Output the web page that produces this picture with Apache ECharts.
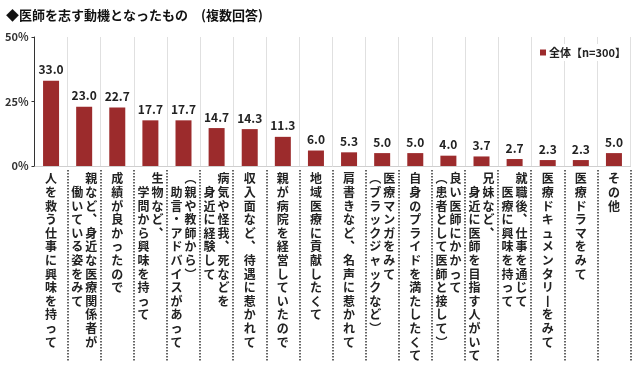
<!DOCTYPE html>
<html>
<head>
<meta charset="utf-8">
<script src="https://cdn.jsdelivr.net/npm/echarts@6/dist/echarts.min.js"></script>
<style>
html,body{margin:0;padding:0;background:#fff;}
#chart{width:637px;height:367px;}
</style>
</head>
<body>
<div id="chart"></div>
<script>
const titleText = '◆医師を志す動機となったもの　(複数回答)';
const seriesName = '全体【n=300】';
const categories = [
  '人を救う仕事に興味を持って',
  '親など、身近な医療関係者が\n　働いている姿をみて',
  '成績が良かったので',
  '生物など、\n　学問から興味を持って',
  '（親や教師から）\n　助言・アドバイスがあって',
  '病気や怪我、死などを\n　身近に経験して',
  '収入面など、待遇に惹かれて',
  '親が病院を経営していたので',
  '地域医療に貢献したくて',
  '肩書きなど、名声に惹かれて',
  '医療マンガをみて\n（ブラックジャックなど）',
  '自身のプライドを満たしたくて',
  '良い医師にかかって\n（患者として医師と接して）',
  '兄妹など、\n　身近に医師を目指す人がいて',
  '就職後、仕事を通じて\n　医療に興味を持って',
  '医療ドキュメンタリーをみて',
  '医療ドラマをみて',
  'その他'
];
const values = [33.0, 23.0, 22.7, 17.7, 17.7, 14.7, 14.3, 11.3, 6.0, 5.3, 5.0, 5.0, 4.0, 3.7, 2.7, 2.3, 2.3, 5.0];
const yTicks = [0, 25, 50];

const verticalMap = {'、':'︑','（':'︵','）':'︶','ー':'丨'};
function verticalLabel(value) {
  const cols = value.split('\n').map(c => Array.from(c).map(ch => verticalMap[ch] || ch));
  const rows = Math.max(...cols.map(c => c.length));
  const ordered = cols.slice().reverse(); // vertical writing: first column on the right
  const lines = [];
  for (let r = 0; r < rows; r++) {
    lines.push(ordered.map(c => '{c|' + (c[r] || '　') + '}').join(''));
  }
  return lines.join('\n');
}

const FONT = '"Noto Sans CJK JP", "Noto Sans", sans-serif';
const chart = echarts.init(document.getElementById('chart'), null, {renderer: 'canvas'});
chart.setOption({
  animation: false,
  backgroundColor: '#fff',
  textStyle: {fontFamily: FONT},
  title: {
    text: titleText,
    left: 1, top: 4,
    textStyle: {fontSize: 13, fontWeight: 'bold', color: '#111', fontFamily: FONT}
  },
  legend: {
    data: [seriesName],
    left: 536, top: 44,
    icon: 'rect', itemWidth: 6, itemHeight: 6, itemGap: 4,
    padding: [3, 4],
    backgroundColor: '#fff',
    textStyle: {fontSize: 11, fontWeight: 'bold', color: '#222', fontFamily: FONT, padding: [0, 0, 0, -2]}
  },
  grid: [
    {left: 34.5, right: 6.5, top: 37, bottom: 201, containLabel: false},
    {left: 34.5, right: 6.5, top: 170, bottom: 5, containLabel: false}
  ],
  xAxis: [{
    type: 'category',
    gridIndex: 0,
    data: categories,
    boundaryGap: true,
    axisLine: {show: true, lineStyle: {color: '#cfcfcf', width: 1}},
    axisTick: {show: false},
    splitLine: {show: true, interval: 0, lineStyle: {color: '#e0e0e0', width: 1}},
    axisLabel: {
      interval: 0,
      margin: 6,
      formatter: verticalLabel,
      rich: {
        c: {width: 14, align: 'center', fontSize: 12, lineHeight: 13.6, fontWeight: 'bold', color: '#222', fontFamily: FONT}
      }
    }
  }, {
    type: 'category',
    gridIndex: 1,
    data: categories,
    boundaryGap: true,
    axisLine: {show: false},
    axisTick: {show: false},
    axisLabel: {show: false},
    splitLine: {
      show: true,
      interval: function (i) { return i !== 0 && i !== categories.length; },
      lineStyle: {type: [1.5, 1.5], color: '#333', width: 1.5}
    }
  }],
  yAxis: [{
    type: 'value',
    gridIndex: 0,
    min: yTicks[0], max: yTicks[yTicks.length - 1], interval: 25,
    axisLine: {show: true, lineStyle: {color: '#333', width: 1}},
    axisTick: {show: true, length: 3, lineStyle: {color: '#333'}},
    splitLine: {show: false},
    axisLabel: {formatter: '{value}%', fontSize: 11, fontWeight: 'bold', color: '#333', margin: 6, fontFamily: FONT}
  }, {
    type: 'value',
    gridIndex: 1,
    show: false,
    min: 0, max: 1
  }],
  series: [{
    name: seriesName,
    type: 'bar',
    xAxisIndex: 0, yAxisIndex: 0,
    data: values,
    barWidth: 16,
    itemStyle: {color: '#9c2b2c'},
    label: {
      show: true, position: 'top', distance: 5,
      formatter: p => p.value.toFixed(1),
      fontSize: 12, fontWeight: 'bold', color: '#222', fontFamily: FONT
    }
  }]
});
</script>
</body>
</html>
